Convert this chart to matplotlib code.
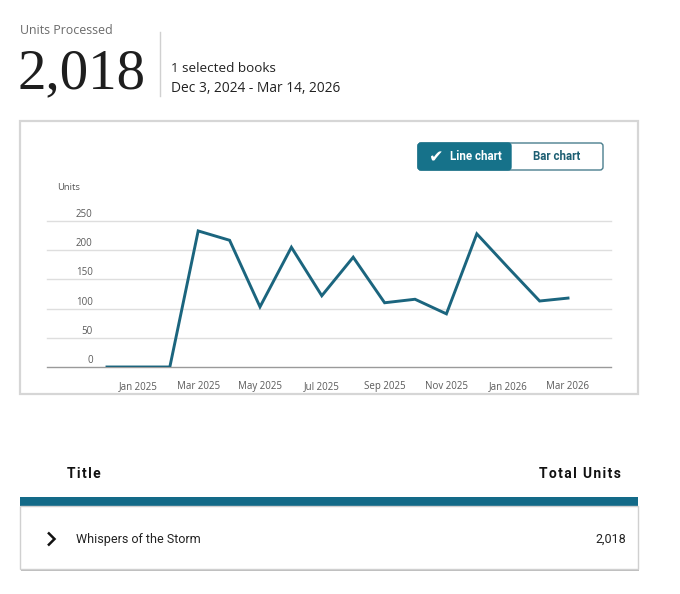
import numpy as np
import pandas as pd
import matplotlib
matplotlib.use('Agg')
import matplotlib.pyplot as plt
import matplotlib.dates as mdates
from matplotlib.patches import Rectangle, FancyBboxPatch
from matplotlib.transforms import blended_transform_factory

# data
months = pd.date_range('2024-12-01', '2026-03-01', freq='MS')
units = [0, 0, 0, 233, 217, 103, 205, 122, 188, 110, 116, 91, 228, 170, 113, 118]
y_ticks = [0, 50, 100, 150, 200, 250]
x_ticks = pd.date_range('2025-01-01', '2026-03-01', freq='2MS')
total_units = 2018
book_title = 'Whispers of the Storm'
date_range_text = 'Dec 3, 2024 - Mar 14, 2026'

TEAL = '#16728a'
LINE = '#1b657e'
W, H = 680, 594
HS = '\u200a'  # hair space for letter-spaced headers

fig = plt.figure(figsize=(W / 100, H / 100), dpi=100)
fig.patch.set_facecolor('white')

# page overlay in pixel coords
bg = fig.add_axes([0, 0, 1, 1])
bg.set_xlim(0, W)
bg.set_ylim(H, 0)
bg.axis('off')

# header
bg.text(20, 31, 'Units Processed', fontsize=8.9, color='#6b6b6b',
        family='Open Sans', va='center', ha='left')
bg.text(18, 88, '{:,}'.format(total_units), fontsize=41, color='#1e1e1e',
        family='Liberation Serif', va='baseline', ha='left')
bg.plot([160, 160], [32, 96], color='#d0d0d0', lw=1)
bg.text(171, 68, '1 selected books', fontsize=9.7, color='#222222',
        family='Open Sans', va='center', ha='left')
bg.text(171, 89, date_range_text, fontsize=9.9, color='#222222',
        family='Open Sans', va='center', ha='left')

# chart card
bg.add_patch(Rectangle((20, 121), 618, 273, fill=False, ec='#d6d6d6', lw=1.6))

# toggle button
bg.add_patch(FancyBboxPatch((418, 143), 185, 27, boxstyle='round,pad=0,rounding_size=3',
                            fc='white', ec='#4b7f8e', lw=1))
bg.add_patch(FancyBboxPatch((418, 143), 93, 27, boxstyle='round,pad=0,rounding_size=3',
                            fc=TEAL, ec=TEAL, lw=1))
bg.text(436, 157, '\u2714', fontsize=12.5, color='white', family='DejaVu Sans',
        va='center', ha='center')
bg.text(450, 156.5, 'Line chart', fontsize=8.3, color='white', family='Roboto',
        weight='bold', va='center', ha='left')
bg.text(557, 156.5, 'Bar chart', fontsize=8.3, color='#1d5f73', family='Roboto',
        weight='bold', va='center', ha='center')

bg.text(57, 188, 'Units', fontsize=6.8, color='#555555', family='Open Sans',
        va='center', ha='left')

# table
bg.text(67, 474, HS.join('Title'), fontsize=10, color='#111111',
        family='Roboto', weight='bold', va='center', ha='left')
bg.text(621, 474, HS.join('Total Units'), fontsize=10, color='#111111', family='Roboto',
        weight='bold', va='center', ha='right')
bg.add_patch(Rectangle((20, 497), 618, 9, fc='#136a88', ec='none'))
bg.add_patch(Rectangle((21, 568), 618, 3, fc='#bdbdbd', ec='none'))
bg.add_patch(Rectangle((20, 506), 618, 63, fc='white', ec='#d0d0d0', lw=1))
bg.plot([48, 54.5, 48], [532.5, 539, 545.5], color='#111111', lw=1.8,
        solid_joinstyle='miter', solid_capstyle='butt')
bg.text(76, 539, book_title, fontsize=9, color='#222222', family='Roboto',
        va='center', ha='left')
bg.text(626, 539, '{:,}'.format(total_units), fontsize=9, color='#222222',
        family='Roboto', va='center', ha='right')

# line chart
ax = fig.add_axes([47 / W, (H - 367) / H, (611 - 47) / W, (367 - 221) / H])
ax.set_facecolor('none')
x0 = mdates.date2num(months[0])
x1 = mdates.date2num(months[-1])
per_px = (x1 - x0) / (568 - 107)
ax.set_xlim(x0 - 60 * per_px, x1 + 43 * per_px)
ax.set_ylim(0, 250)

for v in y_ticks:
    ax.axhline(v, color='#9a9a9a' if v == 0 else '#dedede', lw=1, zorder=1, clip_on=False)
tr = blended_transform_factory(ax.transAxes, ax.transData)
for v in y_ticks:
    ax.text(0.081, v + 11, str(v), transform=tr, fontsize=7, color='#5a5a5a',
            family='Open Sans', ha='right', va='center')

ax.plot(months, units, color=LINE, lw=2.1, zorder=3, solid_joinstyle='miter')

ax.set_xticks(x_ticks)
ax.xaxis.set_major_formatter(mdates.DateFormatter('%b %Y'))
ax.tick_params(axis='x', length=0, pad=10, labelsize=7, labelcolor='#5a5a5a')
for lab in ax.get_xticklabels():
    lab.set_family('Open Sans')
ax.set_yticks([])
for s in ax.spines.values():
    s.set_visible(False)

fig.savefig('out.png', dpi=100, facecolor='white')
